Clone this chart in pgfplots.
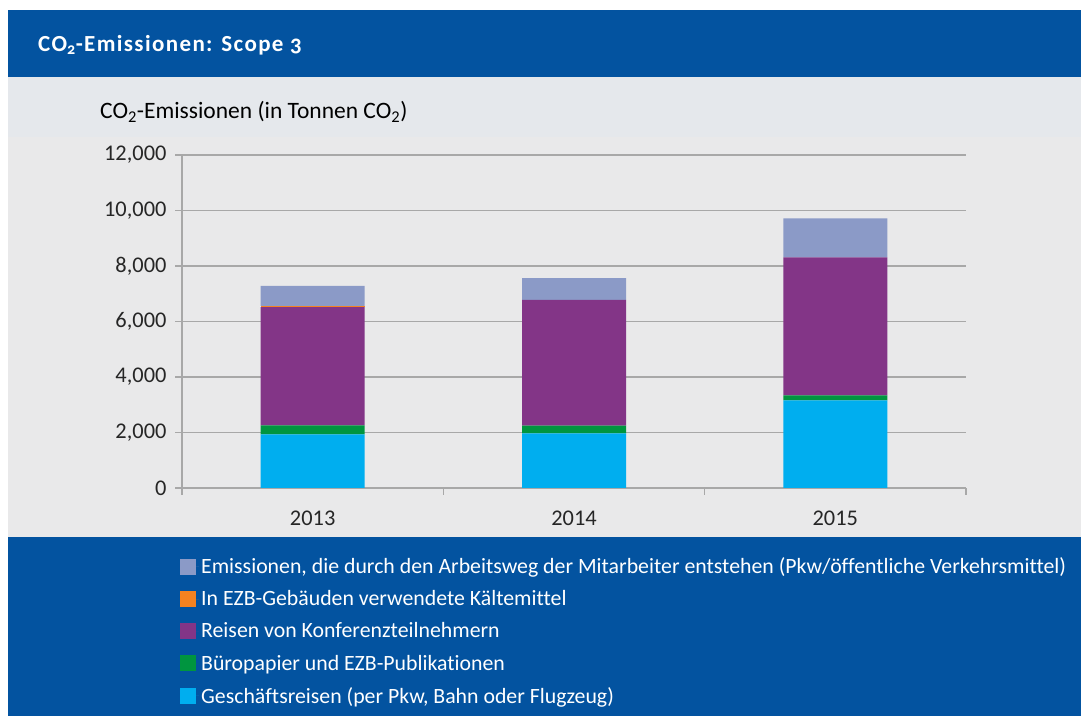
\documentclass[border=0pt]{standalone}
\usepackage{pgfplots}
\pgfplotsset{compat=1.18}
\usepackage{fontspec}
\setmainfont[Ligatures=NoCommon]{Carlito}
\newfontfamily\titlefont[LetterSpace=6,Numbers=OldStyle,Ligatures=NoCommon]{Carlito}
\newfontfamily\legfont[Ligatures=NoCommon]{Carlito}
\definecolor{ecbblue}{HTML}{0353A0}
\definecolor{bggrey}{HTML}{E9E9EA}
\definecolor{topgrey}{HTML}{E5E8EC}
\definecolor{cLB}{HTML}{8B9AC7}
\definecolor{cOR}{HTML}{F58220}
\definecolor{cPU}{HTML}{833587}
\definecolor{cGR}{HTML}{00953F}
\definecolor{cCY}{HTML}{00AEEF}
\definecolor{gridgrey}{HTML}{A8A8A8}
\begin{document}
\begin{tikzpicture}[x=1bp,y=1bp]
\path[use as bounding box] (0,0) rectangle (1081,716);
\fill[white] (0,0) rectangle (1081,716);
\fill[ecbblue] (8,639) rectangle (1081,706);
\fill[topgrey] (8,579) rectangle (1081,639);
\fill[bggrey] (8,179) rectangle (1081,579);
\fill[ecbblue] (8,0) rectangle (1081,179);
\node[anchor=west,text=white,inner sep=0pt] at (38,671) {\titlefont\bfseries\fontsize{23bp}{26bp}\selectfont CO\textsubscript{2}-Emissionen: Scope 3};
\node[anchor=west,text=black,inner sep=0pt] at (100,604) {\fontsize{23.5bp}{27bp}\selectfont CO\textsubscript{2}-Emissionen (in Tonnen CO\textsubscript{2})};
\begin{axis}[
  at={(182bp,228bp)}, anchor=south west,
  scale only axis, width=784bp, height=333bp,
  ybar stacked, bar width=104bp,
  xmin=-0.5, xmax=2.5, ymin=0, ymax=12000,
  xtick={0,1,2}, xticklabels={2013,2014,2015},
  ytick={0,2000,...,12000},
  axis x line=bottom, axis y line=left,
  axis line style={-, gridgrey, line width=1.6bp},
  ymajorgrids, grid style={gridgrey, line width=1.6bp},
  tick align=outside,
  major tick length=7bp,
  x tick style={draw=none},
  y tick style={gridgrey, line width=1.6bp},
  extra x ticks={-0.5,0.5,1.5,2.5}, extra x tick labels={},
  extra x tick style={x tick style={draw=gridgrey, line width=1.6bp}, major tick length=7bp, grid=none},
  scaled y ticks=false,
  /pgf/number format/.cd, 1000 sep={,}, assume math mode=true,
  /pgfplots/.cd,
  tick label style={font=\fontsize{22.4bp}{26bp}\selectfont, text=black!85},
  yticklabel style={xshift=-5bp},
  xticklabel style={yshift=-12bp},
  axis background/.style={fill=none},
  legend style={at={(-0.0026,-0.203)}, anchor=north west, draw=none, fill=none,
    text=white, font=\legfont\fontsize{21.8bp}{25bp}\selectfont, row sep=11.5bp,
    inner sep=0pt, cells={anchor=west}},
  legend image code/.code={\fill[#1] (0bp,-8bp) rectangle (16bp,8bp); \path (0bp,0bp) -- (19bp,0bp);},
  reverse legend,
]
\addplot[fill=cCY, draw=none] coordinates {(0,1935) (1,1970) (2,3160)};
\addplot[fill=cGR, draw=none] coordinates {(0,325) (1,275) (2,180)};
\addplot[fill=cPU, draw=none] coordinates {(0,4260) (1,4530) (2,4970)};
\addplot[fill=cOR, draw=none] coordinates {(0,40) (1,0) (2,0)};
\addplot[fill=cLB, draw=none] coordinates {(0,720) (1,785) (2,1410)};
\legend{{Geschäftsreisen (per Pkw, Bahn oder Flugzeug)},
{Büropapier und EZB-Publikationen},
{Reisen von Konferenzteilnehmern},
{In EZB-Gebäuden verwendete Kältemittel},
{Emissionen, die durch den Arbeitsweg der Mitarbeiter entstehen (Pkw/öffentliche Verkehrsmittel)}}
\end{axis}
\end{tikzpicture}
\end{document}
